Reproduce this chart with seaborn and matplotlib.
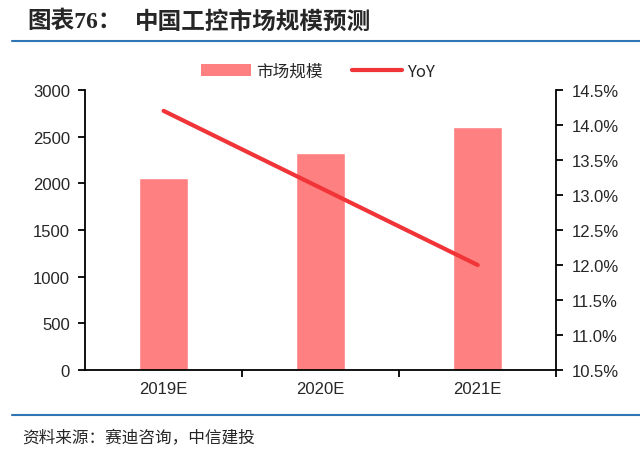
import matplotlib
matplotlib.use("Agg")
import matplotlib.pyplot as plt
import seaborn as sns
import pandas as pd
from matplotlib.lines import Line2D
from matplotlib.patches import Patch
from matplotlib.ticker import FuncFormatter, MultipleLocator, FixedLocator

years = ["2019E", "2020E", "2021E"]
market_size = [2060, 2320, 2600]
yoy = [14.2, 13.1, 12.0]

sns.set_theme(style="white")
plt.rcParams['font.family'] = ['Liberation Sans', 'Noto Sans CJK SC', 'DejaVu Sans']

df = pd.DataFrame({"year": years, "size": market_size, "yoy": yoy})

bar_color = "#FF8080"
line_color = "#F03438"
rule_color = "#2E75B6"
cjk = ['Noto Sans CJK SC', 'DejaVu Sans']

fig = plt.figure(figsize=(6.4, 4.52), dpi=100)
ax = fig.add_axes([0.133, 0.179, 0.736, 0.620])

sns.barplot(data=df, x="year", y="size", color=bar_color, width=0.31,
            saturation=1, ax=ax)
ax.set_xlim(-0.5, 2.5)
ax.set_ylim(0, 3000)
ax.yaxis.set_major_locator(MultipleLocator(500))
ax.set_xlabel("")
ax.set_ylabel("")

ax2 = ax.twinx()
sns.lineplot(x=[0, 1, 2], y=df["yoy"], color=line_color, linewidth=3, ax=ax2)
ax2.set_ylim(10.5, 14.5)
ax2.yaxis.set_major_locator(MultipleLocator(0.5))
ax2.yaxis.set_major_formatter(FuncFormatter(lambda v, p: f"{v:.1f}%"))
ax2.set_ylabel("")

for a in (ax, ax2):
    for s in a.spines.values():
        s.set_visible(False)
ax.spines['left'].set_visible(True)
ax.spines['bottom'].set_visible(True)
ax2.spines['right'].set_visible(True)
for s in (ax.spines['left'], ax.spines['bottom'], ax2.spines['right']):
    s.set_color("black")
    s.set_linewidth(1.3)

ax.tick_params(axis='y', direction='out', length=5, width=1.3, color='black',
               labelsize=12, pad=6, left=True)
ax.tick_params(axis='x', length=0, labelsize=12, pad=8)
ax.xaxis.set_minor_locator(FixedLocator([0.5, 1.5, 2.5]))
ax.tick_params(axis='x', which='minor', direction='out', length=5, width=1.3,
               color='black', bottom=True)
ax2.tick_params(axis='y', direction='out', length=5, width=1.3, color='black',
                labelsize=12, pad=6, right=True)

handles = [Patch(facecolor=bar_color, edgecolor='none'),
           Line2D([0], [0], color=line_color, linewidth=3)]
leg = fig.legend(handles, ["市场规模", "YoY"], loc="center", ncol=2,
                 bbox_to_anchor=(0.497, 0.84), frameon=False, fontsize=12,
                 handlelength=3.0, columnspacing=1.8, handletextpad=0.3)
for t in leg.get_texts():
    t.set_family(['Noto Sans CJK SC', 'Liberation Sans'])

fig.text(0.043, 0.951, "图表76：", fontsize=17, fontweight='bold',
         family=['Liberation Serif', 'Noto Sans CJK SC'], va='center')
fig.text(0.211, 0.951, "中国工控市场规模预测", fontsize=17, fontweight='bold',
         family=cjk, va='center')
fig.add_artist(Line2D([0.019, 1.0], [0.906, 0.906], color=rule_color, linewidth=1.5))
fig.add_artist(Line2D([0.019, 1.0], [0.079, 0.079], color=rule_color, linewidth=1.5))
fig.text(0.035, 0.031, "资料来源：赛迪咨询，中信建投", fontsize=12, family=cjk,
         style='italic', va='center')

fig.savefig("out.png", dpi=100)
